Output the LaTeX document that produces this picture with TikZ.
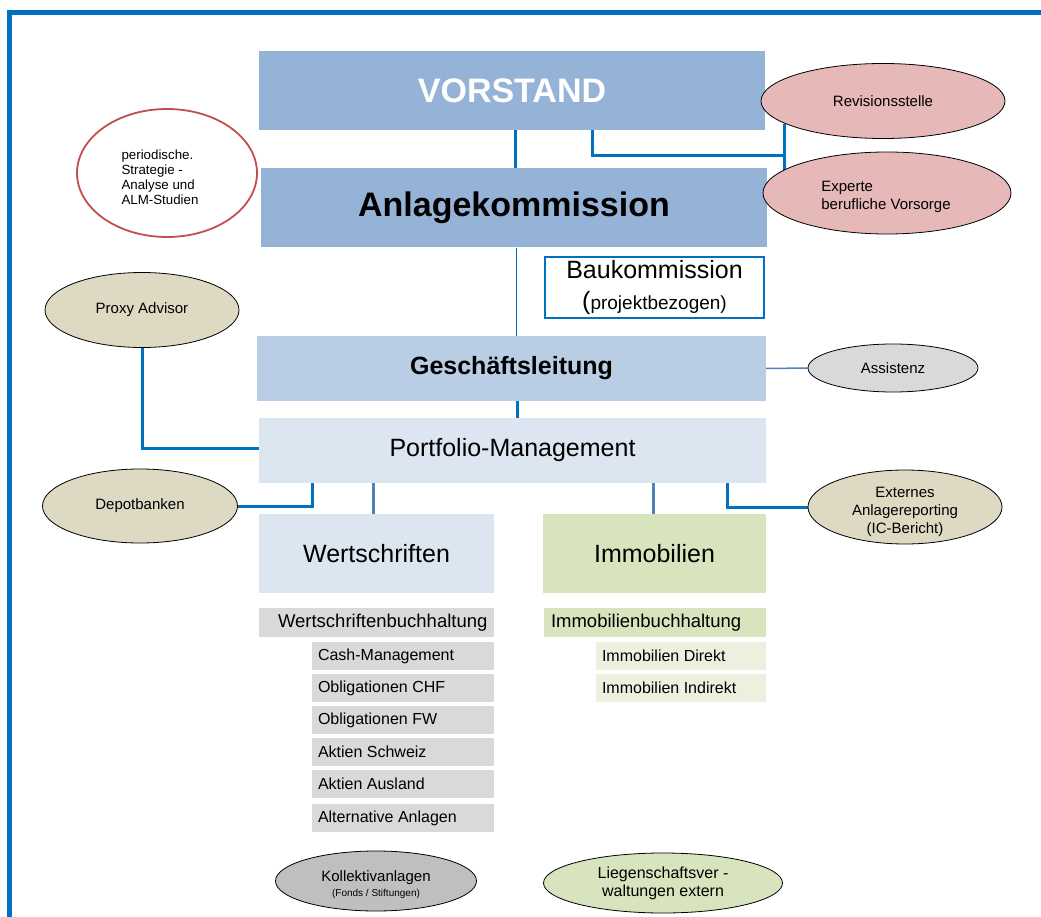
\documentclass[tikz,border=0pt]{standalone}
\usepackage{fontspec}
\setmainfont{Liberation Sans}
\usetikzlibrary{shapes.geometric,backgrounds,calc}
\definecolor{bblue}{HTML}{0070C0}
\definecolor{lblue}{HTML}{4F81BD}
\definecolor{topf}{HTML}{95B3D7}
\definecolor{glf}{HTML}{B9CDE5}
\definecolor{pmf}{HTML}{DCE6F1}
\definecolor{grnf}{HTML}{D7E4BD}
\definecolor{lgrnf}{HTML}{EBF1DE}
\definecolor{grayf}{HTML}{D9D9D9}
\definecolor{dgrayf}{HTML}{BFBFBF}
\definecolor{rosef}{HTML}{E6B9B8}
\definecolor{tanf}{HTML}{DDD9C3}
\definecolor{redl}{HTML}{C0504D}
\begin{document}
\begin{tikzpicture}[x=1pt,y=-1pt,
  box/.style={rectangle, inner sep=0pt, align=center},
  ell/.style={ellipse, draw=black, line width=0.8pt, inner sep=0pt, align=center, font=\fontsize{15}{18}\selectfont},
  elltxt/.style={inner sep=0pt, align=center, font=\fontsize{15}{18}\selectfont},
  wbitem/.style={rectangle, inner sep=0pt, fill=grayf, minimum width=182pt, minimum height=28pt,
     label={[anchor=west, xshift=6pt, inner sep=0pt, font=\fontsize{16}{19}\selectfont]west:#1}},
  imitem/.style={rectangle, inner sep=0pt, fill=lgrnf, minimum width=170pt, minimum height=28pt,
     label={[anchor=west, xshift=6pt, inner sep=0pt, font=\fontsize{16}{19}\selectfont]west:#1}},
  thickc/.style={draw=bblue, line width=3pt},
  lthickc/.style={draw=lblue, line width=3pt},
  thinc/.style={draw=bblue, line width=0.9pt},
  lthinc/.style={draw=lblue, line width=1.5pt}
]
\useasboundingbox (0,0) rectangle (1041,917);
% frame
\draw[bblue, line width=5pt] (9.5,917) -- (9.5,12.5) -- (1041,12.5);

% main boxes
\node[box, fill=topf, minimum width=506pt, minimum height=79pt, text=white,
  font=\fontsize{34}{40}\selectfont\bfseries] (vorstand) at (512,90.5) {VORSTAND};
\node[box, fill=topf, minimum width=506pt, minimum height=79pt,
  font=\fontsize{34}{40}\selectfont\bfseries] (anlage) at (514,208) {Anlagekommission};
\node[box, fill=white, draw=bblue, line width=2.5pt, minimum width=219pt, minimum height=61pt,
  font=\fontsize{25}{31}\selectfont] (bau) at (654.5,287.5)
  {Baukommission\\(\fontsize{19}{31}\selectfont projektbezogen)};
\node[box, fill=glf, minimum width=509pt, minimum height=65pt,
  font=\fontsize{25}{30}\selectfont\bfseries] (gl) at (511.5,368.5) {Geschäftsleitung};
\node[box, fill=pmf, minimum width=507pt, minimum height=65pt,
  font=\fontsize{25}{30}\selectfont] (pm) at (512.5,450.5) {Portfolio-Management};
\node[box, fill=pmf, minimum width=235pt, minimum height=79pt,
  font=\fontsize{25}{30}\selectfont] (wert) at (376.5,553.5) {Wertschriften};
\node[box, fill=grnf, minimum width=223pt, minimum height=79pt,
  font=\fontsize{25}{30}\selectfont] (immo) at (654.5,553.5) {Immobilien};

% accounting
\node[rectangle, inner sep=0pt, fill=grayf, minimum width=235pt, minimum height=29pt,
  label={[anchor=west, xshift=19pt, inner sep=0pt, font=\fontsize{18.5}{22}\selectfont]west:Wertschriftenbuchhaltung}]
  (wbh) at (376.5,622.5) {};
\node[wbitem=Cash-Management] (cash) at (403,656) {};
\node[wbitem=Obligationen CHF] (ochf) at (403,688) {};
\node[wbitem=Obligationen FW] (ofw) at (403,720) {};
\node[wbitem=Aktien Schweiz] (asch) at (403,752) {};
\node[wbitem=Aktien Ausland] (aaus) at (403,784) {};
\node[wbitem=Alternative Anlagen] (alt) at (403,818) {};

\node[rectangle, inner sep=0pt, fill=grnf, minimum width=222pt, minimum height=29pt,
  label={[anchor=west, xshift=7pt, inner sep=0pt, font=\fontsize{18.5}{22}\selectfont]west:Immobilienbuchhaltung}]
  (ibh) at (655,622.5) {};
\node[imitem=Immobilien Direkt] (idir) at (681,656) {};
\node[imitem=Immobilien Indirekt] (iind) at (681,688) {};

% ellipses
\node[ellipse, draw=redl, line width=1.8pt, fill=white, inner sep=0pt,
  minimum width=180pt, minimum height=128pt] (peri) at (167,173) {};
\node[align=left, inner sep=0pt, font=\fontsize{13.3}{15}\selectfont, anchor=center]
  (peritxt) at (160,177) {periodische.\\Strategie -\\Analyse und\\ALM-Studien};
\node[ell, fill=rosef, minimum width=244pt, minimum height=75pt] (rev) at (883,101) {Revisionsstelle};
\node[ell, fill=rosef, minimum width=248pt, minimum height=82pt] (exp) at (887,193) {};
\node[elltxt, align=left] (exptxt) at (886,197) {Experte\\berufliche Vorsorge};
\node[ell, fill=tanf, minimum width=194pt, minimum height=75pt] (proxy) at (142,310) {Proxy Advisor};
\node[ell, fill=tanf, minimum width=195pt, minimum height=74pt] (depot) at (140,506) {Depotbanken};
\node[ell, fill=grayf, minimum width=170pt, minimum height=48pt] (assist) at (893,368) {Assistenz};
\node[ell, fill=tanf, minimum width=194pt, minimum height=74pt] (ext) at (905,507) {};
\node[elltxt] (exttxt) at (905,512) {Externes\\Anlagereporting\\(IC-Bericht)};
\node[ell, fill=dgrayf, minimum width=201pt, minimum height=60pt] (koll) at (376,881) {};
\node[elltxt] (kolltxt) at (376,885)
  {Kollektivanlagen\\[-3pt]{\fontsize{10}{12}\selectfont (Fonds / Stiftungen)}};
\node[ell, fill=grnf, minimum width=239pt, minimum height=60pt, font=\fontsize{16}{18}\selectfont] (lieg) at (663,883)
  {Liegenschaftsver -\\waltungen extern};

\coordinate (junc) at (786,156);

\begin{scope}[on background layer]
  \draw[thickc] ([xshift=3pt]vorstand.south) -- ([xshift=3pt]vorstand.south |- anlage.north);
  \draw[thickc] ([xshift=80pt]vorstand.south) |- (junc);
  \draw[thickc] (rev.193) -- (rev.193 |- exp.center);
  \draw[thinc] ([xshift=2pt]anlage.south) -- ([xshift=2pt]anlage.south |- gl.north);
  \draw[thickc] ([xshift=6pt]gl.south) -- ([xshift=6pt]gl.south |- pm.north);
  \draw[lthinc] (gl.east) -- (assist.west);
  \draw[thickc] (proxy.south) |- ([yshift=2pt]pm.west);
  \draw[thickc] (depot.east) -| ([xshift=-200pt]pm.south);
  \draw[thickc] (ext.west) -| ([xshift=214.5pt]pm.south);
  \draw[lthickc] ([xshift=-3.5pt]wert.north) -- ([xshift=-3.5pt]wert.north |- pm.south);
  \draw[lthickc] ([xshift=-1.5pt]immo.north) -- ([xshift=-1.5pt]immo.north |- pm.south);
\end{scope}
\end{tikzpicture}
\end{document}
